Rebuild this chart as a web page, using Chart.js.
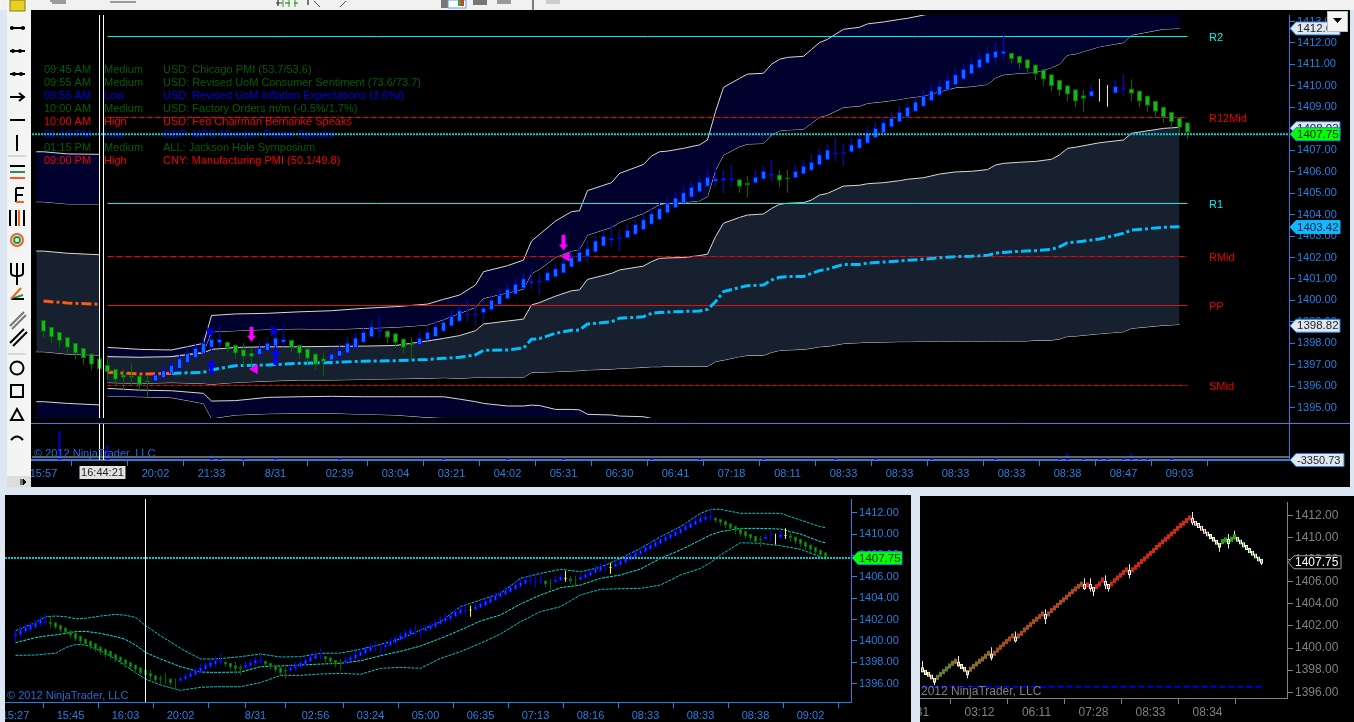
<!DOCTYPE html>
<html>
<head>
<meta charset="utf-8">
<title>ES 09-12 NinjaTrader</title>
<script src="https://cdn.jsdelivr.net/npm/chart.js@4/dist/chart.umd.min.js"></script>
<style>
  html, body { margin: 0; padding: 0; background: #dce7f3; overflow: hidden; }
  body { width: 1354px; height: 722px; position: relative; }
  canvas { position: absolute; background: #000; }
  .bg { position: absolute; background: #000; }
  svg { position: absolute; left: 0; top: 0; }
</style>
</head>
<body>
<div class="bg" style="left:31px;top:10px;width:1319px;height:477px"></div>
<div class="bg" style="left:5px;top:495px;width:906px;height:227px"></div>
<div class="bg" style="left:920px;top:496px;width:434px;height:226px"></div>
<canvas id="price" width="1319" height="413" style="left:31px;top:10px"></canvas>
<canvas id="volume" width="1319" height="64" style="left:31px;top:423px"></canvas>
<canvas id="lower" width="906" height="227" style="left:5px;top:495px"></canvas>
<canvas id="renko" width="434" height="226" style="left:920px;top:496px"></canvas>

<!-- window chrome around the charts: toolbar and drawing tools -->
<svg width="1354" height="722" style="pointer-events:none">
  <rect x="0" y="0" width="1354" height="10" fill="#f1f1f1"/>
  <rect x="7" y="0" width="24" height="487" fill="#f4f4f4"/>
  <rect x="10" y="0" width="15" height="11" fill="#e8cf28" stroke="#8a7a10"/>
  <path d="M50 1h16M52 3h14M110 2h26M276 3h6M285 3h5M294 3h4M314 1l6 6M340 7l6-6" stroke="#444" fill="none"/>
  <g fill="#777"><rect x="441" y="0" width="10" height="8"/><rect x="473" y="0" width="14" height="5"/><rect x="497" y="0" width="14" height="4" fill="#999"/><rect x="546" y="0" width="14" height="4" fill="#ccc"/></g>
  <rect x="448" y="0" width="18" height="8" fill="#fff" stroke="#5aa0e8"/><rect x="458" y="0" width="3" height="6" fill="#3a3"/><rect x="461" y="0" width="3" height="6" fill="#d33"/>
  <path d="M283 0v7M289 0v7M295 0v7" stroke="#1a1" /><path d="M533 0v10M278 0v6M308 0v5" stroke="#000"/>
  <g stroke="#000" stroke-width="2" fill="none">
    <path d="M10 28h15M10 51h15M10 74h15M10 97h13M10 120h15M17 135v16"/>
    <path d="M19 93l5 4-5 4"/>
    <path d="M10 166h15"/><path d="M10 172h15" stroke="#1a9a4a"/><path d="M10 178h15" stroke="#f06020"/>
    <path d="M16 188v14M16 188h8M16 195h7"/><path d="M16 202h8" stroke="#f06020"/>
    <path d="M10 210v16M16 210v16M24 210v16"/><path d="M19 210v16" stroke="#f06020"/>
    <circle cx="17" cy="240" r="6" stroke="#f06020" fill="none"/><circle cx="17" cy="240" r="3" stroke="#1a9a4a"/>
    <path d="M11 263v10q0 3 6 3t6-3v-10M17 263v22"/>
    <path d="M11 299l12-4" stroke="#1a9a4a"/><path d="M11 299h13"/><path d="M11 299l10-11" stroke="#f06020"/>
    <path d="M10 326l14-14M12 329l14-14" stroke="#777"/>
    <path d="M10 343l14-14M13 346l14-14"/>
    <circle cx="17" cy="368" r="6.5"/><rect x="11" y="385" width="12" height="12"/>
    <path d="M17 409l-6 11h12z"/><path d="M11 440q6-7 12 0"/>
  </g>
  <g fill="#000"><circle cx="12" cy="28" r="2"/><circle cx="23" cy="28" r="2"/><circle cx="13" cy="51" r="2"/><circle cx="20" cy="51" r="2"/><circle cx="14" cy="74" r="2"/><circle cx="21" cy="74" r="2"/></g>
  <path d="M8 156h18M8 354h18" stroke="#bbb"/>
  <rect x="7" y="476" width="24" height="11" fill="#ddd"/><path d="M21 479v6M23 479l3 3-3 3z" stroke="#000" fill="#000"/>
  <rect x="1327.5" y="11.5" width="20" height="20" fill="#f4f4f4" stroke="#bbb"/>
  <path d="M1333 18h9l-4.500 5z" fill="#000"/>
</svg>

<script>
// all 163 bars of the session, the big panel starts at bar 19
const opens = [
  1400.45,1400.56,1400.87,1401.02,1401.24,1401.59,1401.71,1401.8,1401.74,1401.49,
  1401.27,1400.93,1400.77,1400.49,1400.21,1400.02,1399.78,1399.46,1399.28,
  1399.09,1398.77,1398.54,1398.3,1398.03,1397.8,1397.53,1397.3,1397,1396.8,
  1396.55,1396.5,1396.5,1396.25,1396.22,1396.37,1396.6,1396.8,1397.07,1397.3,
  1397.53,1397.8,1398,1398.07,1397.93,1397.72,1397.56,1397.45,1397.64,1397.85,
  1398.03,1398.15,1397.93,1397.76,1397.53,1397.3,1397.2,1397.38,1397.53,1397.77,
  1398.03,1398.28,1398.54,1398.6,1398.47,1398.22,1398,1397.92,1398.15,1398.3,
  1398.54,1398.78,1399.01,1399.3,1399.32,1399.4,1399.54,1399.79,1400.05,1400.28,
  1400.56,1400.8,1400.83,1400.9,1401.08,1401.26,1401.54,1401.78,1402.04,1402.24,
  1402.51,1402.79,1402.85,1402.9,1403.06,1403.28,1403.53,1403.75,1404.06,1404.3,
  1404.53,1404.8,1405.04,1405.3,1405.53,1405.58,1405.61,1405.65,1405.47,1405.46,
  1405.64,1405.81,1405.87,1405.73,1405.69,1405.87,1406.05,1406.3,1406.53,1406.8,
  1406.84,1406.89,1407.07,1407.3,1407.56,1407.79,1408.07,1408.3,1408.53,1408.8,
  1409.03,1409.3,1409.55,1409.78,1410.04,1410.3,1410.54,1410.82,1411.05,1411.29,
  1411.47,1411.55,1411.41,1411.24,1411,1410.77,1410.54,1410.29,1410.03,1409.84,
  1409.56,1409.5,1409.65,1409.65,1409.65,1409.84,1409.88,1409.78,1409.55,1409.3,
  1409.03,1408.8,1408.53,1408.3
];
const closes = [
  1400.67,1401.09,1401.34,1401.59,1401.74,1402.11,1401.9,1401.59,1401.27,1401.02,
  1400.77,1400.49,1400.18,1399.93,1399.71,1399.46,1399.21,1398.96,1398.68,
  1398.54,1398.28,1398.11,1397.8,1397.53,1397.3,1397,1396.8,1396.65,1396.3,
  1396.4,1396.4,1396.05,1396.2,1396.55,1396.75,1397,1397.3,1397.53,1397.8,
  1398.03,1398.2,1398.2,1397.8,1397.53,1397.38,1397.38,1397.8,1398.03,1398.27,
  1398.2,1397.8,1397.53,1397.28,1397,1397.14,1397.53,1397.69,1398.03,1398.27,
  1398.54,1398.8,1398.65,1398.26,1398.03,1397.8,1397.9,1398.26,1398.54,1398.8,
  1399.01,1399.29,1399.54,1399.38,1399.4,1399.66,1400.03,1400.27,1400.55,1400.78,
  1401.03,1400.92,1400.92,1401.31,1401.5,1401.76,1402.04,1402.27,1402.43,1402.79,
  1403.02,1402.91,1402.94,1403.28,1403.56,1403.78,1404.06,1404.3,1404.53,1404.8,
  1405.04,1405.3,1405.53,1405.77,1405.69,1405.69,1405.7,1405.3,1405.38,1405.77,
  1406.05,1405.92,1405.58,1405.66,1406.05,1406.28,1406.47,1406.81,1407.04,1406.9,
  1406.92,1407.28,1407.56,1407.79,1408.05,1408.3,1408.53,1408.8,1409.03,1409.27,
  1409.55,1409.78,1410,1410.27,1410.54,1410.8,1411.05,1411.27,1411.55,1411.64,
  1411.64,1411.25,1411.05,1410.8,1410.54,1410.3,1410,1409.78,1409.6,1409.27,
  1409.4,1409.79,1409.65,1409.65,1410,1409.92,1409.64,1409.27,1409.08,1408.8,
  1408.53,1408.3,1408.05,1407.82
];
const highs = [
  1401.03,1401.3,1401.6,1401.8,1402,1402.3,1402.52,1402.27,1401.8,1401.5,
  1401.3,1401,1400.8,1400.5,1400.25,1400.05,1399.8,1399.5,1399.3,
  1399.09,1398.77,1398.54,1398.3,1398.03,1397.8,1397.53,1397.3,1397.3,1396.8,
  1396.8,1397.05,1396.5,1396.5,1396.67,1397,1397.25,1397.5,1397.85,1398.03,
  1398.3,1398.54,1398.8,1398.1,1397.95,1398.03,1397.8,1398.07,1398.3,1398.54,
  1398.77,1398.15,1397.93,1397.76,1397.53,1397.53,1397.77,1398.03,1398.3,1398.54,
  1398.8,1399.08,1399.3,1398.6,1398.47,1398.22,1398.3,1398.54,1398.8,1399.08,
  1399.3,1399.55,1399.79,1400.05,1399.79,1400.05,1400.3,1400.56,1400.83,1401.06,
  1401.29,1401.54,1401.29,1401.54,1401.76,1402.04,1402.3,1402.54,1402.82,1403.05,
  1403.31,1403.56,1403.31,1403.56,1403.83,1404.06,1404.3,1404.56,1404.8,1405.07,
  1405.33,1405.54,1405.8,1406.08,1406.3,1406.08,1406.3,1405.65,1405.8,1406.08,
  1406.3,1406.55,1406.08,1406.08,1406.3,1406.55,1406.82,1407.06,1407.29,1407.57,
  1407.29,1407.56,1407.79,1408.1,1408.3,1408.57,1408.8,1409.07,1409.3,1409.53,
  1409.81,1410.04,1410.3,1410.56,1410.82,1411.05,1411.33,1411.57,1411.83,1412.03,
  1412.34,1411.55,1411.41,1411.24,1411,1410.77,1410.54,1410.29,1410.03,1409.84,
  1409.81,1410.04,1410.32,1410.04,1410.3,1410.55,1410.3,1409.78,1409.55,1409.3,
  1409.03,1408.8,1408.53,1408.3
];
const lows = [
  1399.93,1400.3,1400.7,1400.9,1401.1,1401.4,1401.5,1401.18,1401.1,1400.8,
  1400.6,1400.25,1400,1399.7,1399.5,1399.25,1399,1398.7,1398.5,
  1398.26,1398.03,1397.8,1397.5,1397.27,1397,1396.75,1396.5,1396.3,1396.05,
  1395.8,1396,1395.8,1395.5,1396.2,1396.35,1396.55,1396.75,1397.05,1397.3,
  1397.5,1397.53,1397.77,1397.6,1397.3,1396.94,1396.8,1397.45,1397.64,1397.6,
  1397.85,1397.6,1397.3,1397.03,1396.75,1396.5,1397.2,1397.14,1397.53,1397.77,
  1398.03,1398.28,1398.23,1398,1397.77,1397.53,1397.25,1397.92,1398.15,1398.3,
  1398.54,1398.78,1399.01,1399,1398.78,1399.01,1399.54,1399.79,1400.05,1400.28,
  1400.56,1400.53,1400.28,1400.9,1401.08,1401.26,1401.54,1401.78,1401.76,1402.24,
  1402.51,1402.51,1402.27,1402.9,1403.06,1403.28,1403.53,1403.75,1404.06,1404.3,
  1404.53,1404.8,1405.04,1405.3,1405.27,1405,1405.3,1405.02,1404.79,1405.46,
  1405.64,1405.54,1405.3,1405.02,1405.69,1405.87,1406.05,1406.3,1406.53,1406.48,
  1406.28,1406.89,1407.07,1407.3,1407.56,1407.79,1408.07,1408.3,1408.53,1408.8,
  1409.03,1409.3,1409.55,1409.78,1410.04,1410.3,1410.54,1410.82,1411.05,1411.05,
  1411.25,1411.05,1410.79,1410.56,1410.27,1410,1409.76,1409.53,1409.27,1409.03,
  1408.8,1409.5,1409.27,1409.03,1409.65,1409.53,1409.27,1409.03,1408.8,1408.53,
  1408.29,1408.05,1407.82,1407.52
];
const firstMainBar = 19;
const mainYellow = [132, 133];
const lowerYellow = [91, 110, 119, 152, 154];

// Bands of the big panel, values read at these bar numbers
const bandBars = [8,12,16,20,21,24,28,32,36,40,44,48,50,52,54,55,58,60,61,62,64,66,67,68,71,72,75,76,77,78,80,82,83,84,85,87,88,90,91,92,93,95,96,97,98,100,102,103,105,107,108,110,112,114,116,118,119,120,122,124,126,127,128,129,132,135,136,140,142];
const upperOuter = [1397.81,1397.72,1397.69,1398,1399.3,1399.37,1399.4,1399.47,1399.52,1399.63,1399.71,1399.83,1400.05,1400.25,1400.72,1401.34,1401.62,1401.88,1402.77,1403.08,1403.7,1404.14,1404.18,1405.12,1405.49,1405.92,1406.34,1406.73,1406.93,1406.96,1407.09,1407.25,1407.48,1408.8,1409.93,1410.35,1410.55,1410.59,1411.01,1411.24,1411.33,1411.38,1411.7,1412.02,1412.17,1412.64,1412.73,1412.89,1412.98,1413.1,1413.15,1413.3,1413.45,1413.6,1413.65,1413.75,1414.05,1414.2,1414.3,1414.35,1414.55,1414.75,1414.95,1415.05,1415.35,1415.55,1415.85,1416.1,1416.2];
const upperInner = [1397.41,1397.38,1397.41,1397.61,1398.54,1398.59,1398.65,1398.68,1398.65,1398.7,1398.75,1398.86,1399.11,1399.4,1399.68,1400.1,1400.36,1400.53,1401.26,1401.45,1402.01,1402.3,1402.38,1403.05,1403.41,1403.64,1404.06,1404.26,1404.48,1404.53,1404.57,1404.65,1404.84,1406.08,1406.78,1407.17,1407.29,1407.32,1407.71,1407.91,1407.95,1407.98,1408.26,1408.54,1408.64,1409,1409.06,1409.19,1409.27,1409.37,1409.44,1409.53,1409.73,1409.92,1409.97,1410.07,1410.38,1410.52,1410.59,1410.63,1410.85,1411.02,1411.44,1411.49,1411.83,1412.02,1412.37,1412.65,1412.68];
const coreTop = [1397.38,1397.35,1397.38,1397.56,1397.72,1397.81,1397.84,1397.84,1397.86,1397.87,1397.9,1398.11,1398.23,1398.36,1398.59,1398.9,1399.04,1399.13,1399.79,1399.9,1400.2,1400.45,1400.49,1400.98,1401.26,1401.42,1401.6,1401.81,1401.96,1401.98,1402,1402.09,1402.16,1402.97,1403.6,1403.87,1403.98,1404.03,1404.29,1404.48,1404.53,1404.56,1404.68,1404.91,1404.99,1405.33,1405.37,1405.44,1405.49,1405.58,1405.65,1405.72,1405.89,1405.99,1406.02,1406.1,1406.31,1406.39,1406.44,1406.48,1406.58,1406.78,1407.09,1407.14,1407.35,1407.48,1407.79,1408.02,1408.07];
const coreBottom = [1396.17,1396.13,1396.17,1396.13,1396.09,1396.18,1396.24,1396.29,1396.29,1396.32,1396.35,1396.37,1396.4,1396.37,1396.41,1396.41,1396.41,1396.41,1396.65,1396.65,1396.68,1396.71,1396.73,1396.76,1396.8,1396.83,1396.88,1396.91,1396.91,1396.93,1396.93,1396.93,1396.93,1397.15,1397.22,1397.38,1397.44,1397.44,1397.58,1397.67,1397.69,1397.72,1397.77,1397.84,1397.86,1397.99,1398.03,1398.05,1398.06,1398.08,1398.08,1398.09,1398.09,1398.09,1398.09,1398.09,1398.09,1398.09,1398.09,1398.14,1398.15,1398.2,1398.33,1398.34,1398.45,1398.54,1398.7,1398.84,1398.88];
const centerLine = [1396.65,1396.57,1396.6,1396.65,1396.76,1396.96,1396.99,1397.07,1397.11,1397.17,1397.19,1397.25,1397.3,1397.35,1397.46,1397.67,1397.69,1397.78,1398.19,1398.22,1398.47,1398.61,1398.62,1398.9,1399.01,1399.17,1399.24,1399.4,1399.44,1399.46,1399.49,1399.51,1399.58,1399.94,1400.41,1400.6,1400.69,1400.72,1400.95,1401.08,1401.11,1401.12,1401.26,1401.39,1401.46,1401.68,1401.68,1401.74,1401.79,1401.84,1401.87,1401.92,1401.99,1402.04,1402.06,1402.1,1402.2,1402.24,1402.29,1402.32,1402.38,1402.5,1402.69,1402.72,1402.86,1403.13,1403.28,1403.41,1403.44];
// the lowest band leaves the panel around bar 77
const lowBars = [8,12,16,20,21,24,28,32,36,40,44,48,50,52,54,55,58,60,61,62,64,66,67,68,71,72,75,76,77];
const lowerInner = [1395.9,1395.82,1395.79,1395.67,1395.31,1395.33,1395.48,1395.51,1395.53,1395.51,1395.51,1395.51,1395.51,1395.4,1395.28,1395.2,1395.08,1395.08,1395.12,1395.1,1394.92,1394.92,1394.9,1394.69,1394.66,1394.61,1394.58,1394.5,1394.4];
const lowerOuter = [1395.55,1395.51,1395.47,1395.2,1394.5,1394.66,1394.72,1394.74,1394.74,1394.7,1394.66,1394.55,1394.52,1394.45,1394.3,1394.3,1394.3,1394.3,1394.3,1394.3,1394.3,1394.3,1394.3,1394.3,1394.3,1394.3,1394.3,1394.3,1394.3];
// part of the bands left of the session break
const leftBars = [-0.9,0,3,7];
const leftUpperOuter = [1406.93,1406.93,1406.83,1406.81];
const leftUpperInner = [1404.6,1404.6,1404.5,1404.5];
const leftCoreTop = [1402.3,1402.3,1402.2,1402.13];
const leftCoreBottom = [1397.61,1397.61,1397.5,1397.45];
const leftLowerInner = [1395.28,1395.28,1395.2,1395.13];
const leftLowerOuter = [1394.52,1394.52,1394.52,1394.52];
const leftCenterBars = [0,3,7];
const leftCenter = [1399.97,1399.88,1399.82];

const pivotNames = ["R2", "R12Mid", "R1", "RMid", "PP", "SMid"];
const pivotValues = [1412.303, 1408.527, 1404.518, 1402.048, 1399.764, 1396.035];
const lastPrice = 1407.75;

const eventTimes = ["09:45 AM","09:55 AM","09:55 AM","10:00 AM","10:00 AM","01:10 PM","01:15 PM","09:00 PM"];
const eventLevels = ["Medium","Medium","Low","Medium","High","Low","Medium","High"];
const eventTexts = [
  "USD: Chicago PMI (53.7/53.6)",
  "USD: Revised UoM Consumer Sentiment (73.6/73.7)",
  "USD: Revised UoM Inflation Expectations (3.6%/)",
  "USD: Factory Orders m/m (-0.5%/1.7%)",
  "USD: Fed Chairman Bernanke Speaks",
  "GBP: MPC Member Posen Speaks",
  "ALL: Jackson Hole Symposium",
  "CNY: Manufacturing PMI (50.1/49.8)"
];

const priceTicks = [1413,1412,1411,1410,1409,1408,1407,1406,1405,1404,1403,1402,1401,1400,1399,1398,1397,1396,1395];
const mainTimeBars = [0,7,14,21,29,37,44,51,58,65,72,79,86,93,100,107,114,121,128,135,142];
const mainTimeLabels = ["15:57","","20:02","21:33","8/31","02:39","03:04","03:21","04:02","05:31","06:30","06:41","07:18","08:11","08:33","08:33","08:33","08:33","08:38","08:47","09:03"];
const volumeBars = [2,8,21,22,25,29,37,50,58,65,76,82,90,99,104,111,119,127,128,130,132,133,135,136,137,138,141];
const volumeValues = [29,14,5,2,2,3,3,2,2,2,2,2,2,2,2,2,2,2,6,2,2,2,2,6,2,2,2];

// lower left panel bands
const lowerTicks = [1412,1410,1408,1406,1404,1402,1400,1398,1396];
const lowerTimeBars = [0,11,22,33,44,48,60,71,82,93,104,115,126,137,148,159];
const lowerTimeLabels = ["15:27","15:45","16:03","20:02","","8/31","02:56","03:24","05:00","06:35","07:13","08:16","08:33","08:33","08:38","09:02"];
const lowerBandBars = [0,4,6,8,10,12,14,17,20,22,24,26,29,33,37,40,45,49,53,57,61,65,69,73,77,81,85,89,93,97,101,105,109,113,117,121,125,129,133,137,139,141,145,149,153,157,161,162];
const lowerBandTop = [1400.96,1401.71,1402.27,1402.33,1402.27,1402.08,1402.11,1402.33,1402.49,1402.4,1402.21,1401.43,1400.49,1399.31,1398.31,1398.31,1398.53,1398.78,1398.5,1398.53,1398.84,1398.87,1399.21,1399.68,1400.18,1401.02,1401.8,1403.21,1403.83,1404.45,1405.86,1406.32,1406.7,1406.48,1406.89,1407.73,1408.66,1409.75,1410.69,1411.94,1412.31,1412.31,1411.94,1411.94,1411.94,1411.31,1410.69,1410.6];
const lowerBandMid = [1399.84,1400.31,1400.46,1400.56,1400.71,1400.87,1400.9,1400.71,1400.4,1400.15,1399.62,1398.93,1398.31,1397.59,1397.09,1397.06,1397.09,1397.59,1397.66,1397.75,1397.84,1397.91,1398.15,1398.62,1399.03,1399.53,1400.24,1401.02,1401.87,1402.43,1403.46,1404.3,1404.98,1405.23,1405.86,1406.17,1406.73,1407.73,1408.51,1409.44,1409.91,1410.22,1410.53,1410.53,1410.47,1410,1409.29,1409.19];
const lowerBandLow = [1398.65,1398.68,1398.78,1398.84,1399.37,1399.68,1399.62,1399.09,1398.31,1397.69,1397.03,1396.44,1395.88,1395.38,1395.66,1395.72,1395.72,1396.1,1396.78,1396.78,1396.91,1396.97,1396.88,1397.44,1397.53,1397.44,1398.37,1399,1399.78,1400.65,1401.8,1402.74,1403.21,1404.3,1404.83,1404.89,1404.92,1405.23,1406.17,1406.79,1407.32,1408.04,1409.19,1409.13,1408.91,1408.57,1407.88,1407.67];

// lower right panel, brick middle of every bar
const brickMid = [
  1398.02,1397.8,1397.62,1397.38,1397.08,1397.35,1397.62,1397.86,1398.11,1398.37,
  1398.62,1398.8,1398.56,1398.32,1398.08,1397.77,1398.08,1398.32,1398.56,1398.8,
  1399.01,1399.25,1399.52,1399.28,1399.52,1399.82,1400.07,1400.34,1400.58,1400.82,
  1401.09,1400.82,1401.09,1401.33,1401.63,1401.87,1402.11,1402.38,1402.6,1402.84,
  1403.08,1402.84,1403.08,1403.38,1403.62,1403.86,1404.13,1404.35,1404.59,1404.86,
  1405.1,1405.34,1405.58,1405.76,1405.55,1405.7,1405.55,1405.31,1405.55,1405.79,
  1406.15,1405.85,1405.55,1405.79,1406.09,1406.33,1406.57,1406.82,1407.06,1406.82,
  1407.06,1407.3,1407.54,1407.81,1408.05,1408.32,1408.56,1408.8,1409.08,1409.32,
  1409.59,1409.83,1410.07,1410.31,1410.55,1410.82,1411.07,1411.28,1411.52,1411.76,
  1411.52,1411.28,1411.07,1410.82,1410.55,1410.31,1410.07,1409.83,1409.56,1409.29,
  1409.62,1409.77,1409.62,1409.83,1410.07,1409.83,1409.59,1409.32,1409.08,1408.8,
  1408.56,1408.32,1408.05,1407.84
];
const brickWickBars = [0,4,11,12,15,23,31,41,54,56,57,61,62,69,90,99,102,104,113];
const brickWickHigh = [1398.83,1397.2,1399.0,1399.28,1397.9,1400.07,1401.5,1403.5,1406.3,1406.3,1405.4,1406.57,1405.7,1407.57,1412.3,1409.4,1410.31,1410.6,1407.95];
const brickWickLow = [1397.8,1396.66,1398.6,1398.3,1397.26,1398.86,1400.5,1402.17,1405.25,1405.1,1404.7,1405.31,1405.1,1406.3,1411.1,1408.71,1409,1409.8,1407.5];
const renkoTicks = [1412,1410,1408,1406,1404,1402,1400,1398,1396];
const renkoTimeBars = [0,19,38,57,76,95];
const renkoTimeLabels = ["31","03:12","06:11","07:28","08:33","08:34"];
const renkoLine = 1396.5;

const FONT = "'Liberation Sans', Arial, sans-serif";
const BLUE = "#1e82e6";
const CYAN = "#00f0f0";
const RED = "#ff0000";
Chart.defaults.animation = false;
Chart.defaults.font.family = FONT;

function labelFrom(bars, labels) {
  return v => { const i = bars.indexOf(v); return i < 0 ? "" : labels[i]; };
}

function xAxis(min, max, bars, labels, height, color, size) {
  return {
    type: "linear", min: min, max: max, offset: false,
    afterBuildTicks: s => { s.ticks = bars.map(v => ({ value: v })); },
    afterFit: s => { s.height = height; s.paddingLeft = 0; s.paddingRight = 0; },
    ticks: { color: color, font: { size: size }, autoSkip: false, maxRotation: 0, callback: labelFrom(bars, labels), padding: 1 },
    grid: { drawOnChartArea: false, color: color, tickLength: 6 },
    border: { color: color, width: 1 }
  };
}

function yAxis(min, max, values, width, color, size) {
  return {
    type: "linear", position: "right", min: min, max: max,
    afterBuildTicks: s => { s.ticks = values.map(v => ({ value: v })); },
    afterFit: s => { s.width = width; s.paddingTop = 0; s.paddingBottom = 0; },
    ticks: { color: color, font: { size: size }, autoSkip: false, padding: 2, callback: v => v.toFixed(2) },
    grid: { drawOnChartArea: false, color: color, tickLength: 6 },
    border: { color: color, width: 1 }
  };
}

function hiddenX(min, max) {
  return { type: "linear", min: min, max: max, display: false, offset: false };
}

function line(xs, ys, color, width, extra) {
  return Object.assign({
    type: "line", parsing: false, normalized: false,
    data: xs.map((x, i) => ({ x: x, y: ys[i] })),
    borderColor: color, borderWidth: width, pointRadius: 0, tension: 0, fill: false, order: 5
  }, extra || {});
}

function candles(xs, o, c, h, l, styleOf, bodyWidth, wickWidth) {
  const wick = { type: "bar", grouped: false, barThickness: wickWidth, inflateAmount: 0, order: 3, borderWidth: 0,
    data: xs.map((x, i) => ({ x: x, y: [l[i], h[i]] })),
    backgroundColor: xs.map((x, i) => styleOf(i).wick) };
  const body = { type: "bar", grouped: false, barThickness: bodyWidth, inflateAmount: 0, order: 2, borderSkipped: false, borderWidth: 1,
    data: xs.map((x, i) => ({ x: x, y: [Math.min(o[i], c[i]), Math.max(o[i], c[i])] })),
    backgroundColor: xs.map((x, i) => styleOf(i).fill),
    borderColor: xs.map((x, i) => styleOf(i).edge) };
  return [wick, body];
}

function bandSet(xs, a, b, c, d, e, f) {
  const white = "#d8d8d8", navy = "#01012e", slate = "#16202f";
  return [
    line(xs, a, white, 1, { fill: "+1", backgroundColor: navy }),
    line(xs, b, white, 1),
    line(xs, c, white, 1, { fill: "+1", backgroundColor: slate }),
    line(xs, d, white, 1),
    line(xs, e, white, 1, { fill: "+1", backgroundColor: navy }),
    line(xs, f, white, 1)
  ];
}

function arrowMark(color, up, h) {
  const c = document.createElement("canvas");
  c.width = 9; c.height = h;
  const g = c.getContext("2d");
  g.fillStyle = color;
  if (up) {
    g.beginPath(); g.moveTo(4.5, 0); g.lineTo(9, 6); g.lineTo(0, 6); g.fill();
    g.fillRect(2.5, 6, 4, h - 6);
  } else {
    g.fillRect(2.5, 0, 4, h - 6);
    g.beginPath(); g.moveTo(4.5, h); g.lineTo(9, h - 6); g.lineTo(0, h - 6); g.fill();
  }
  return c;
}

function marker(x, y, style, color, radius, rotation) {
  return { type: "line", parsing: false, showLine: false, data: [{ x: x, y: y }], order: 1,
    pointStyle: style, pointRadius: radius, pointRotation: rotation || 0,
    pointBackgroundColor: color, pointBorderColor: color };
}

function tag(ctx, x, y, w, text, bg, edge, fg, size) {
  ctx.save();
  ctx.beginPath();
  ctx.moveTo(x, y);
  ctx.lineTo(x + 6, y - 6.5);
  ctx.lineTo(x + w, y - 6.5);
  ctx.lineTo(x + w, y + 6.5);
  ctx.lineTo(x + 6, y + 6.5);
  ctx.closePath();
  ctx.fillStyle = bg;
  ctx.fill();
  ctx.strokeStyle = edge;
  ctx.lineWidth = 1;
  ctx.stroke();
  ctx.fillStyle = fg;
  ctx.font = size + "px " + FONT;
  ctx.textAlign = "left";
  ctx.textBaseline = "middle";
  ctx.fillText(text, x + 7, y + 0.5);
  ctx.restore();
}

// ---- big panel ----
const mainXs = opens.slice(firstMainBar).map((v, i) => i);
const mainStyle = i => {
  if (mainYellow.includes(i)) return { wick: "#ffff20", fill: "#ffff20", edge: "#ffff20" };
  return closes[i + firstMainBar] >= opens[i + firstMainBar]
    ? { wick: "#0000e0", fill: "#0a6cff", edge: "#0000e8" }
    : { wick: "#006a00", fill: "#1fb31f", edge: "#007000" };
};
const mainMin = -1.4375, mainMax = 155.6875;
const yMin = 1394.52, yMax = 1413.305;
const orangeRanges = [[0, 13], [33.5, 35]];
const isOrange = x => orangeRanges.some(r => x >= r[0] && x <= r[1]);

const pivotStyle = [
  { c: CYAN, w: 1, d: [] }, { c: RED, w: 1, d: [5, 1, 1, 1] }, { c: CYAN, w: 1, d: [] },
  { c: RED, w: 1, d: [6, 1, 1, 1] }, { c: "#e01414", w: 1, d: [] }, { c: RED, w: 1, d: [4, 1, 1, 1] }
];

const priceSets = []
  .concat(bandSet(leftBars, leftUpperOuter, leftUpperInner, leftCoreTop, leftCoreBottom, leftLowerInner, leftLowerOuter))
  .concat(bandSet(bandBars, upperOuter, upperInner, coreTop, coreBottom, lowerInner.concat(Array(bandBars.length - lowBars.length).fill(null)), lowerOuter.concat(Array(bandBars.length - lowBars.length).fill(null))))
  .concat([
    line(leftCenterBars, leftCenter, "#ff5a10", 3, { borderDash: [10, 3, 3, 3], order: 4 }),
    line(bandBars, centerLine, "#00bfff", 3, { borderDash: [10, 3, 3, 3], order: 4,
      segment: { borderColor: ctx => isOrange(ctx.p0.parsed.x) ? "#ff5a10" : "#00bfff" } })
  ])
  .concat(pivotValues.map((v, i) => line([8, 143], [v, v], pivotStyle[i].c, pivotStyle[i].w, { borderDash: pivotStyle[i].d, order: 4 })))
  .concat(candles(mainXs, opens.slice(firstMainBar), closes.slice(firstMainBar), highs.slice(firstMainBar), lows.slice(firstMainBar), mainStyle, 5, 1))
  .concat([
    line([7, 7], [yMin, yMax], "#ffffff", 1, { order: 1 }),
    line([7.5, 7.5], [yMin, yMax], "#ffffff", 1, { order: 1 }),
    Object.assign(line([mainMin, mainMax], [lastPrice, lastPrice], "#00cfcf", 2, { borderDash: [2, 1], order: 1 }), { label: "last" }),
    marker(26, 1398.43, arrowMark("#ff00ff", false, 15), "#ff00ff", 7),
    marker(65, 1402.68, arrowMark("#ff00ff", false, 15), "#ff00ff", 7),
    marker(21, 1396.91, arrowMark("#0000ff", true, 14), "#0000ff", 7),
    marker(29, 1397.38, arrowMark("#0000ff", true, 17), "#0000ff", 7),
    marker(26.4, 1396.8, "triangle", "#ff00ff", 5, -90),
    marker(65.4, 1402.04, "triangle", "#ff00ff", 5, -90),
    marker(20.8, 1398.53, "triangle", "#0000e0", 5, 90),
    marker(28.8, 1398.57, "triangle", "#0000e0", 5, 90)
  ]);

const levelColor = { Medium: "#005e00", Low: "#0000e6", High: "#f00000" };
function drawEvents(chart) {
  const ctx = chart.ctx;
  ctx.save();
  ctx.font = "11px " + FONT;
  ctx.textBaseline = "middle";
  ctx.textAlign = "left";
  eventTexts.forEach((t, i) => {
    const y = 59.5 + 13 * i;
    ctx.fillStyle = levelColor[eventLevels[i]];
    ctx.fillText(eventTimes[i], 13, y);
    ctx.fillText(eventLevels[i], 73, y);
    ctx.fillText(t, 132, y);
  });
  ctx.restore();
}

const pricePlugin = {
  id: "priceExtras",
  beforeDatasetDraw(chart, args) {
    if (chart.data.datasets[args.index].label === "last") drawEvents(chart);
  },
  afterDraw(chart) {
    const ctx = chart.ctx, y = chart.scales.y, right = chart.chartArea.right;
    ctx.save();
    ctx.strokeStyle = BLUE;
    ctx.beginPath();
    ctx.moveTo(right + 0.5, chart.chartArea.bottom);
    ctx.lineTo(right + 0.5, 413);
    ctx.stroke();
    ctx.font = "11px " + FONT;
    ctx.textBaseline = "middle";
    ctx.textAlign = "left";
    pivotNames.forEach((n, i) => {
      ctx.fillStyle = pivotStyle[i].c === CYAN ? CYAN : "#e80000";
      ctx.fillText(n, 1178, y.getPixelForValue(pivotValues[i]) + 1);
    });
    ctx.restore();
    const tx = right + 1;
    tag(ctx, tx, y.getPixelForValue(1412.68), 50, "1412.68", "#dfe8f2", BLUE, "#222", 11.5);
    tag(ctx, tx, y.getPixelForValue(1408.03), 50, "1408.03", "#dfe8f2", BLUE, "#222", 11.5);
    tag(ctx, tx, y.getPixelForValue(1403.42), 50, "1403.42", "#12b8ff", "#12b8ff", "#06223a", 11.5);
    tag(ctx, tx, y.getPixelForValue(1398.82), 50, "1398.82", "#dfe8f2", BLUE, "#222", 11.5);
    tag(ctx, tx, y.getPixelForValue(lastPrice), 50, "1407.75", "#00ff00", BLUE, "#082008", 11.5);
  }
};

new Chart(document.getElementById("price"), {
  type: "bar",
  data: { datasets: priceSets },
  options: {
    responsive: false, devicePixelRatio: 1,
    layout: { autoPadding: false, padding: { left: 1, top: 5, bottom: 5, right: 0 } },
    plugins: { legend: { display: false }, tooltip: { enabled: false } },
    scales: { x: hiddenX(mainMin, mainMax), y: yAxis(yMin, yMax, priceTicks, 61, BLUE, 11) }
  },
  plugins: [pricePlugin]
});

// ---- volume strip under the big panel ----
const volumePlugin = {
  id: "volumeExtras",
  afterDraw(chart) {
    const ctx = chart.ctx, area = chart.chartArea;
    ctx.save();
    ctx.strokeStyle = "#3a86dc";
    ctx.beginPath();
    ctx.moveTo(0, 0.5);
    ctx.lineTo(chart.width, 0.5);
    ctx.stroke();
    ctx.font = "11px " + FONT;
    ctx.fillStyle = "#1e6ed8";
    ctx.textBaseline = "middle";
    ctx.fillText("© 2012 NinjaTrader, LLC", 3, 31);
    // clock label of the cursor, drawn over the time axis
    const cx = chart.scales.x.getPixelForValue(7);
    ctx.fillStyle = "#e2e2e2";
    ctx.fillRect(cx - 20, 43, 46, 13);
    ctx.fillStyle = "#222";
    ctx.textAlign = "center";
    ctx.fillText("16:44:21", cx + 3, 50);
    ctx.restore();
    tag(ctx, area.right + 1, area.bottom, 54, "-3350.73", "#dfe8f2", BLUE, "#222", 11);
  }
};

new Chart(document.getElementById("volume"), {
  type: "bar",
  data: { datasets: [
    { type: "bar", grouped: false, barThickness: 2, inflateAmount: 0, borderWidth: 0, backgroundColor: "#0000e6", order: 3,
      data: volumeBars.map((b, i) => ({ x: b, y: volumeValues[i] })) },
    line([mainMin, mainMax], [3, 3], "#cccccc", 1, { order: 2 }),
    line([7, 7], [0, 37], "#ffffff", 1, { order: 1 }),
    line([7.5, 7.5], [0, 37], "#ffffff", 1, { order: 1 })
  ] },
  options: {
    responsive: false, devicePixelRatio: 1,
    layout: { autoPadding: false, padding: { left: 1, top: 0, bottom: 0, right: 0 } },
    plugins: { legend: { display: false }, tooltip: { enabled: false } },
    scales: {
      x: Object.assign(xAxis(mainMin, mainMax, mainTimeBars, mainTimeLabels, 27, BLUE, 11), { border: { color: BLUE, width: 2 } }),
      y: { type: "linear", position: "right", min: 0, max: 37,
        afterFit: s => { s.width = 61; s.paddingTop = 0; s.paddingBottom = 0; },
        ticks: { display: false }, grid: { display: false }, border: { color: BLUE } }
    }
  },
  plugins: [volumePlugin]
});

// ---- lower left panel ----
const lowerXs = opens.map((v, i) => i);
const lowerStyle = i => {
  if (lowerYellow.includes(i)) return { wick: "#ffff20", fill: "#ffff20", edge: "#ffff20" };
  return closes[i] >= opens[i]
    ? { wick: "#0000f0", fill: "#0a5cff", edge: "#0000f0" }
    : { wick: "#006400", fill: "#1c9c1c", edge: "#006a00" };
};
const lowMin = -2.1, lowMax = 167.1;
const lowYMin = 1394.29, lowYMax = 1413.28;
const tealDash = { borderDash: [3, 1], order: 4 };

new Chart(document.getElementById("lower"), {
  type: "bar",
  data: { datasets: [
    line(lowerBandBars, lowerBandTop, "#00c4c4", 1, tealDash),
    line(lowerBandBars, lowerBandMid, "#00e8e8", 1, tealDash),
    line(lowerBandBars, lowerBandLow, "#00c4c4", 1, tealDash)
  ].concat(candles(lowerXs, opens, closes, highs, lows, lowerStyle, 3, 1)).concat([
    line([26, 26], [lowYMin, lowYMax], "#ffffff", 1, { order: 1 }),
    line([lowMin, lowMax], [lastPrice, lastPrice], "#00c8c8", 2, { borderDash: [2, 1], order: 1 })
  ]) },
  options: {
    responsive: false, devicePixelRatio: 1,
    layout: { autoPadding: false, padding: { left: 0, top: 4, bottom: 0, right: 0 } },
    plugins: { legend: { display: false }, tooltip: { enabled: false } },
    scales: {
      x: xAxis(lowMin, lowMax, lowerTimeBars, lowerTimeLabels, 20, BLUE, 11),
      y: yAxis(lowYMin, lowYMax, lowerTicks, 60, BLUE, 11)
    }
  },
  plugins: [{
    id: "lowerExtras",
    afterDraw(chart) {
      const ctx = chart.ctx;
      ctx.save();
      ctx.font = "11px " + FONT;
      ctx.fillStyle = "#1e6ed8";
      ctx.textBaseline = "middle";
      ctx.fillText("© 2012 NinjaTrader, LLC", 2, 201);
      ctx.restore();
      tag(ctx, chart.chartArea.right + 1, chart.scales.y.getPixelForValue(lastPrice), 50, "1407.75", "#00ff00", BLUE, "#082008", 11.5);
    }
  }]
});

// ---- lower right panel ----
const brickUps = brickMid.map((v, i) => i === 0 ? false : v > brickMid[i - 1]);
function brickColor(i) {
  if (!brickUps[i]) {
    if (i < 25) return "#e08010";
    if (i < 96) return "#e01808";
    if (i < 100) return "#b0c010";
    return "#30c010";
  }
  if (i < 10) return "#5f7f2a";
  if (i < 24) return "#8a6a2a";
  if (i < 55) return "#a84a20";
  if (i < 99) return "#cc2a14";
  return "#30a010";
}
const renkoXs = brickMid.map((v, i) => i);
const renkoMin = -0.8333, renkoMax = 121.5;

new Chart(document.getElementById("renko"), {
  type: "bar",
  data: { datasets: [
    { type: "bar", grouped: false, barThickness: 1, inflateAmount: 0, order: 3, borderWidth: 0, backgroundColor: "#e8e8e8",
      data: brickWickBars.map((b, i) => ({ x: b, y: [brickWickLow[i], brickWickHigh[i]] })) },
    { type: "bar", grouped: false, barThickness: 3, inflateAmount: 0, order: 2, borderSkipped: false,
      borderWidth: renkoXs.map(i => brickUps[i] ? 0 : 1),
      borderColor: "#ffffff",
      backgroundColor: renkoXs.map(brickColor),
      data: renkoXs.map(i => ({ x: i, y: [brickMid[i] - 0.23, brickMid[i] + 0.23] })) },
    line([0, 113], [renkoLine, renkoLine], "#0000e6", 2, { borderDash: [6, 3], order: 1 })
  ] },
  options: {
    responsive: false, devicePixelRatio: 1,
    layout: { autoPadding: false, padding: { left: 0, top: 6, bottom: 0, right: 0 } },
    plugins: { legend: { display: false }, tooltip: { enabled: false } },
    scales: {
      x: xAxis(renkoMin, renkoMax, renkoTimeBars, renkoTimeLabels, 24, "#808080", 12),
      y: yAxis(1395.48, 1413.2, renkoTicks, 67, "#808080", 12)
    }
  },
  plugins: [{
    id: "renkoExtras",
    afterDraw(chart) {
      const ctx = chart.ctx;
      ctx.save();
      ctx.font = "12px " + FONT;
      ctx.fillStyle = "#808080";
      ctx.textBaseline = "middle";
      ctx.fillText("2012 NinjaTrader, LLC", 1, 196);
      ctx.restore();
      tag(ctx, chart.chartArea.right + 1, chart.scales.y.getPixelForValue(lastPrice), 53, "1407.75", "#000000", "#a0a0a0", "#ffffff", 12);
    }
  }]
});
</script>
</body>
</html>
